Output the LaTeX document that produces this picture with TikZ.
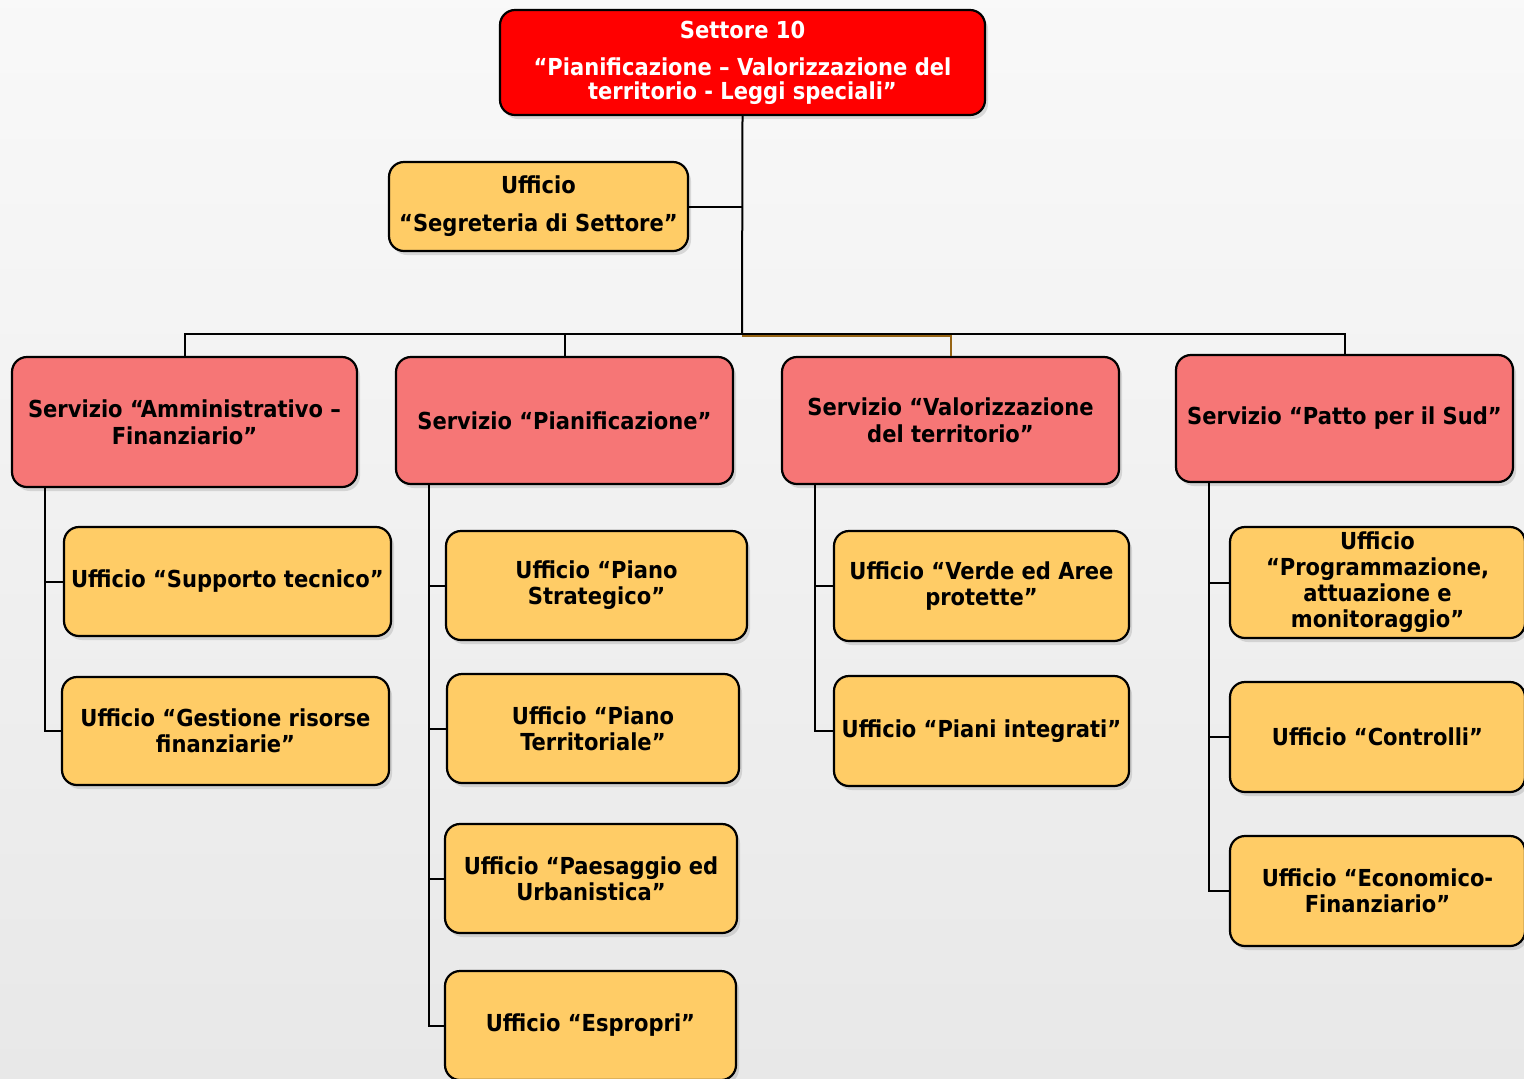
\documentclass[tikz,border=0pt]{standalone}
\usepackage{fontspec}
\setmainfont{DejaVu Sans Condensed}
\usepackage{tikz}
\usetikzlibrary{shapes,arrows,positioning,shadows}

\definecolor{settorered}{RGB}{255,0,0}
\definecolor{serviziored}{RGB}{246,118,118}
\definecolor{ufficioyellow}{RGB}{255,204,102}
\definecolor{linkbrown}{RGB}{150,100,20}

\begin{document}
\begin{tikzpicture}[
    x=0.5pt, y=-0.5pt,
    box/.style={draw, line width=1.1pt, rounded corners=7.5pt, inner sep=2pt, align=center,
        font=\bfseries\fontsize{11.7}{13}\selectfont,
        drop shadow={shadow xshift=1.5pt, shadow yshift=-2pt, opacity=0.25}},
    settorebox/.style={box, fill=settorered, text=white, font=\bfseries\fontsize{11.7}{12}\selectfont},
    serviziobox/.style={box, fill=serviziored, minimum width=168.5pt, minimum height=63.5pt,
        font=\bfseries\fontsize{11.7}{13.5}\selectfont},
    ufficiobox/.style={box, fill=ufficioyellow, minimum height=54.5pt},
    link/.style={line width=1pt, black}
]

% --- Background ---
\useasboundingbox (0,0) rectangle (1524,1078);
\shade[top color=gray!5, bottom color=gray!18] (0,0) rectangle (1524,1078);

% --- Settore ---
\node[settorebox, minimum width=242.5pt, minimum height=52.5pt] (settore) at (742.5,62.5)
  {Settore 10\\[6.5pt]“Pianificazione – Valorizzazione del\\territorio - Leggi speciali”};
\node[ufficiobox, minimum width=149.5pt, minimum height=44.5pt] (segreteria) at (538.5,206.5)
  {Ufficio\\[6pt]“Segreteria di Settore”};

% --- Servizi ---
\node[serviziobox, minimum width=172.5pt, minimum height=65pt] (amministrativo) at (184.5,422)
  {Servizio “Amministrativo –\\Finanziario”};
\node[serviziobox] (pianificazione) at (564.5,420.5) {Servizio “Pianificazione”};
\node[serviziobox] (valorizzazione) at (950.5,420.5) {Servizio “Valorizzazione\\del territorio”};
\node[serviziobox] (patto) at (1344.5,418.5) {Servizio “Patto per il Sud”};

% --- Uffici ---
\node[ufficiobox, minimum width=163.5pt] (supporto) at (227.5,581.5) {Ufficio “Supporto tecnico”};
\node[ufficiobox, minimum width=163.5pt, minimum height=54pt] (gestione) at (225.5,731)
  {Ufficio “Gestione risorse\\finanziarie”};

\node[ufficiobox, minimum width=150.5pt] (strategico) at (596.5,585.5) {Ufficio “Piano\\Strategico”};
\node[ufficiobox, minimum width=146pt] (territoriale) at (593,728.5) {Ufficio “Piano\\Territoriale”};
\node[ufficiobox, minimum width=146pt] (paesaggio) at (591,878.5) {Ufficio “Paesaggio ed\\Urbanistica”};
\node[ufficiobox, minimum width=145.5pt] (espropri) at (590.5,1025.5) {Ufficio “Espropri”};

\node[ufficiobox, minimum width=147.5pt, minimum height=55pt] (verde) at (981.5,586)
  {Ufficio “Verde ed Aree\\protette”};
\node[ufficiobox, minimum width=147.5pt, minimum height=55pt] (integrati) at (981.5,731)
  {Ufficio “Piani integrati”};

\node[ufficiobox, minimum width=147.5pt, minimum height=55.5pt] (programmazione) at (1377.5,582.5)
  {Ufficio\\“Programmazione,\\attuazione e\\monitoraggio”};
\node[ufficiobox, minimum width=147.5pt, minimum height=55pt] (controlli) at (1377.5,737)
  {Ufficio “Controlli”};
\node[ufficiobox, minimum width=147.5pt, minimum height=55pt] (economico) at (1377.5,891)
  {Ufficio “Economico-\\Finanziario”};

% --- Links ---
\coordinate (bus) at (742,334);
\draw[link, linkbrown] ([yshift=-0.8pt]bus) -| (valorizzazione.north);
\draw[link] (settore.south) -- (bus);
\draw[link] (segreteria.east) -- (segreteria.east -| bus);
\draw[link] (amministrativo.north) |- (bus) -| (patto.north);
\draw[link] (pianificazione.north) -- (pianificazione.north |- bus);

\draw[link] ([xshift=17pt]amministrativo.south west) |- (supporto.west);
\draw[link] ([xshift=17pt]amministrativo.south west) |- (gestione.west);

\draw[link] ([xshift=17pt]pianificazione.south west) |- (strategico.west);
\draw[link] ([xshift=17pt]pianificazione.south west) |- (territoriale.west);
\draw[link] ([xshift=17pt]pianificazione.south west) |- (paesaggio.west);
\draw[link] ([xshift=17pt]pianificazione.south west) |- (espropri.west);

\draw[link] ([xshift=17pt]valorizzazione.south west) |- (verde.west);
\draw[link] ([xshift=17pt]valorizzazione.south west) |- (integrati.west);

\draw[link] ([xshift=17pt]patto.south west) |- (programmazione.west);
\draw[link] ([xshift=17pt]patto.south west) |- (controlli.west);
\draw[link] ([xshift=17pt]patto.south west) |- (economico.west);

\end{tikzpicture}
\end{document}
